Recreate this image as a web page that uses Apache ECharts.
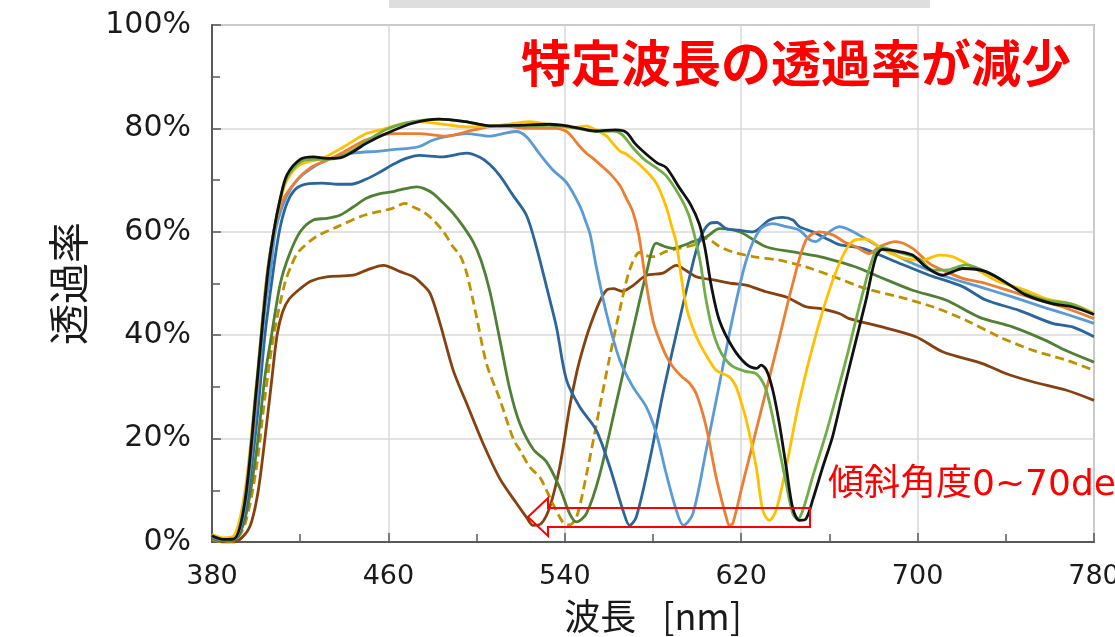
<!DOCTYPE html>
<html>
<head>
<meta charset="utf-8">
<script src="https://cdn.jsdelivr.net/npm/echarts@6/dist/echarts.min.js"></script>
<style>
html, body { margin: 0; padding: 0; background: #fff; }
#main { width: 1115px; height: 637px; }
</style>
</head>
<body>
<div id="main"></div>
<script>
// 波長[nm] と 透過率[%] の組
var curveBlack = [[380,1.2],[385,0.5],[390,0.6],[395,8],[400,29],[405,51],[408,60],[411,66.5],[414,71],[420,74],[426,74.5],[432,74.2],[438,74.3],[444,75.5],[450,77.1],[459,79],[471,81],[483,81.8],[495,81.3],[506,80.5],[518,80.6],[533,80.8],[541,80.5],[548,79.9],[554,79.5],[563,79.7],[568,79.2],[572,77],[577,75],[582,73.3],[586,72.4],[592,68.5],[597,65.3],[601,61.5],[603.5,57],[606.5,49.4],[610,43],[616,37.7],[622,34.5],[627,33.6],[629,34.2],[631.5,33.2],[634.3,29.4],[637.3,22.9],[640.4,14.5],[643.4,6.5],[646.4,4.2],[649.4,4.5],[652.4,8.1],[657,14.5],[661.5,20.5],[666,28.5],[670.6,36.5],[676.6,46.8],[681,55],[684,56.6],[690,56.3],[697.7,55.5],[703.8,53.2],[711.3,51.6],[716,52.3],[720.4,52.9],[731,52.3],[743,49.4],[749,47.8],[761,46.1],[770,45.5],[780,44]];
var curveGreen = [[380,1.2],[385,0.4],[390,0.5],[395,8.5],[400,29.5],[405,51.5],[408,60],[411,66.5],[414,70.5],[420,73.5],[426,74],[432,74],[438,74.5],[444,75.8],[450,77.5],[459,79.8],[471,81.3],[483,81.8],[495,81.3],[506,80.5],[518,80.4],[533,80.6],[541,80.3],[548,79.8],[554,79.4],[562,79.5],[566,78.8],[571,76.2],[576,74],[581,72.5],[586,70.8],[592,67],[596,63.5],[599,59],[601.5,54],[604,47],[607,41],[611,36.5],[616,34],[622,33],[627,32.5],[631.3,29.4],[635.8,21],[640.4,11.3],[643.4,5.5],[645.6,4.4],[647.9,6.1],[652.4,12.6],[658.5,21],[663,28],[668.3,36.5],[674.3,46.8],[680.4,55.8],[684,57],[690,56.2],[700.6,54.8],[706.8,52.6],[712.8,52.6],[721.9,53.6],[734,51.6],[746,48.7],[758,46.8],[770,46],[780,44]];
var curveYellow = [[380,1.5],[385,0.8],[390,1.2],[395,10],[400,30],[405,52],[408,60],[411,66],[414,70],[420,73],[430,74.2],[440,76.5],[450,79],[459,80],[467,81],[474,81.3],[485,80.8],[495.5,80.3],[510.6,80.6],[518,81],[524,81.3],[532,80.8],[540.8,80.2],[546.8,80.3],[549.8,80.5],[552.8,80],[556,79.3],[559,78.5],[562,77],[565,75.6],[568,75],[571,74],[575.4,72.4],[581.5,69.4],[586,64.8],[588.5,61],[590.6,57.8],[592.8,51.3],[595.1,45.5],[598,41.5],[601.1,38.4],[605,35.5],[608.7,33.2],[614.7,31.9],[617.7,30],[620,27],[622.3,23.6],[626.8,14.5],[629.8,6.1],[632.8,4.2],[635.8,6.1],[640.4,14.5],[646.4,27.4],[654,40.3],[661.5,50.6],[667.5,56.5],[672,58.5],[676.6,58.6],[682.6,57.1],[688,55.8],[694.7,54.8],[702.2,54.5],[709.8,55.5],[715.8,55.2],[724.9,53.2],[735.5,50.6],[749,48.7],[758,47.1],[770,46],[780,44.3]];
var curveOrange = [[380,1.2],[385,0.5],[390,0.6],[395,8],[400,28],[404,48],[408,60],[412,66],[418.5,70],[425,72.5],[432,73.8],[440,75.5],[450,77.8],[462,79],[474,79],[486,78.5],[498.5,79.7],[510.6,80.6],[522.6,80],[536,80],[540.8,79.4],[543,78.5],[546.8,76.5],[549.8,75.2],[552.8,74.2],[556,73],[560.4,71.3],[564.9,69],[567.9,66.5],[570.9,63.8],[573.5,59.5],[576,52.5],[578.5,46],[580.5,42],[583,39],[586,36],[589,33.9],[593,32],[596.6,30.7],[599.6,28.7],[604.1,22.3],[608.6,12.6],[613.2,4.8],[614.7,3.2],[616.2,3.6],[620.7,11.3],[628.3,24.2],[635.9,37.1],[643.4,50],[649.4,58.4],[655,60],[661.5,59.4],[667,58],[672,57.1],[678.1,55.8],[682.6,57.1],[690.1,58.1],[697.7,56.8],[705.3,53.9],[711.3,52.6],[720.4,51],[731,50],[743,48.4],[755,46.8],[765.6,45.5],[780,43.2]];
var curveLightBlue = [[380,1],[385,0.4],[390,0.5],[395,7],[400,26],[404,45],[406.5,52],[408.7,60],[412,65],[416,68.5],[421,71],[432,73.9],[444,75.2],[456,75.6],[462,75.9],[468,76.1],[474,76.5],[480,77.7],[486,78.4],[495.5,79],[506,78.5],[512,79],[518,79.4],[522.6,78.4],[528.7,75],[534.7,71.9],[540.8,69.5],[546.8,65],[549.5,62],[551.5,59.5],[554.3,53.2],[558.9,44.2],[564.9,35.2],[570.9,30],[577,26.1],[581.5,21],[586,13.2],[590.6,6.1],[593.8,3.2],[598.1,5.5],[604.1,17.7],[610.2,30.7],[616.2,43.5],[622.3,54.5],[628.3,60.3],[634.3,61.6],[640.4,61],[646.4,60.3],[651,58.5],[653.9,58.1],[657,59],[664.5,61],[675,59],[682.6,57.1],[690,55.5],[697.7,53.9],[705,52.6],[712.8,51.3],[727.9,49.4],[743,47.4],[758,45.3],[768.6,43.9],[780,42.3]];
var curveDarkBlue = [[380,0.8],[385,0.3],[390,0.4],[395,6],[400,22],[404,40],[407,50],[410.5,60],[414,65.5],[418,68.3],[424,69.3],[430,69.4],[437,69.2],[443,69.2],[450,70.2],[456,71.5],[462,73],[468,74.2],[474,74.8],[484,74.5],[495.5,75.2],[501.5,74.4],[506,73],[510.6,70.8],[516.6,67],[522.6,63.2],[527.1,57.1],[531.7,49.4],[536.2,41.6],[540.8,31.3],[546.8,26.1],[554.3,21.6],[560.4,14.5],[566.4,6.1],[569.4,3.2],[572.4,4.8],[578.5,15.8],[584.5,28.7],[590.6,40.3],[596.6,51.3],[601.1,58.4],[605.6,61.6],[609,61.8],[613.2,60.6],[619,60.3],[625.3,60],[632.8,62.3],[638.8,62.8],[643.4,62.3],[646.4,61],[652.4,60],[660,58.4],[664.5,57.5],[675,56.8],[690.1,54.2],[705.3,51.6],[720.4,49.4],[731,46.8],[746,44.8],[761.1,42.3],[770.2,41.6],[780,39.7]];
var curveDarkGreen = [[380,0.8],[385,0.2],[390,0.3],[395,4.5],[400,17],[404,32],[407,40],[411,50],[415,55.5],[420,60],[426,62.3],[432,62.6],[438,63.2],[444,64.8],[450,66.5],[456.2,67.4],[461.5,67.7],[465.2,68.1],[472.8,68.7],[476,68.4],[480.3,67.4],[485,65.5],[489.3,63.6],[494,61],[498.5,58],[502,54.5],[506,48.5],[510.6,39],[515.1,29.5],[519.6,22.9],[525.6,18],[531.7,15.5],[537.7,10.5],[542.2,5.5],[545.3,3.9],[549.8,5.5],[555.8,13],[563.4,27],[570.9,41],[577,52],[581.5,57.8],[585,57.2],[589,56.8],[594,57.4],[598.1,58.1],[604.1,59],[610.2,60.6],[619.2,60],[631.3,57.1],[643.4,56.1],[655.5,55.2],[664.5,54.2],[672,53.2],[682.6,51.3],[697.7,48.7],[712.8,46.8],[727.9,43.5],[743,41.6],[758,39],[767,37.1],[780,34.8]];
var curveDashed = [[380,0.5],[385,0],[390,0.2],[395,3.5],[400,14],[404,28],[408,40],[413,50],[416,53.5],[419,56],[427,59],[437,61],[449,63.2],[461.5,64.5],[467.5,65.5],[471.3,64.8],[476,63.8],[480.3,62.3],[485,60],[489.3,57.1],[492.4,55.5],[495.5,52],[500,43.5],[504.5,34.5],[510.6,27.5],[516.6,20],[520,17.5],[524.1,14.5],[528.7,12.5],[531.7,10],[536.2,6],[539.5,3.6],[542,3.3],[545.3,4.8],[549.8,13],[555.8,26],[560,35],[564.9,44.8],[569.4,52.6],[573.9,56],[577,55.4],[580,55.2],[586,56.2],[592,56.8],[598.1,57.4],[604.1,58.7],[610,57.2],[616.2,56.1],[625.3,55.2],[637.4,54.5],[649.4,53.2],[661.5,51.4],[676.6,49],[691.6,47.4],[706.8,45.5],[721.9,42.9],[737,39.7],[752.1,37.1],[767.2,35.2],[780,33.2]];
var curveBrown = [[380,0.5],[385,0],[390,0],[395,1.5],[398,4],[401,10],[404,20],[407,31],[409.5,40],[412,44.5],[415,47],[420,49],[425,50.5],[432,51.3],[444,51.6],[450.2,52.6],[457.7,53.5],[465.3,52.3],[471.3,51.3],[475,50],[478.9,48.1],[483.4,42.3],[489.4,33.2],[495.5,26.8],[503,19],[510.6,12.2],[518.1,7.5],[522.6,4.8],[525.6,3.2],[529.4,3.6],[533.2,6.8],[537.7,14.5],[542.2,26.1],[545.5,33],[548.3,37.5],[551.3,41.6],[555.8,46.5],[558.9,48.7],[562,49],[566,48.5],[570.9,49.6],[577,51.6],[584.5,52],[590.6,53.5],[595,52.5],[599.6,51.3],[608.7,50.6],[616.2,50],[622.3,49.7],[631.3,48.4],[640.4,47.4],[649.4,45.5],[655.5,45.2],[664.5,44.2],[669,43.2],[681.1,41.9],[699.2,39.7],[711.3,36.8],[729.4,34.5],[740,32.6],[752.1,31],[767.2,29.4],[780,27.4]];

var curves = [curveBlack, curveGreen, curveYellow, curveOrange, curveLightBlue, curveDarkBlue, curveDarkGreen, curveDashed, curveBrown];
var colors = ['#111111', '#70AD47', '#FFC000', '#ED7D31', '#5B9BD5', '#2A659C', '#4F8033', '#BF9000', '#87400F'];

var myChart = echarts.init(document.getElementById('main'));

var series = [];
for (var i = curves.length - 1; i >= 0; i--) {
    series.push({
        type: 'line',
        data: curves[i],
        smooth: 0.3,
        showSymbol: false,
        lineStyle: {
            color: colors[i],
            width: 2.8,
            type: i == 7 ? [9, 5] : 'solid'
        }
    });
}

var axisColor = '#595959';

var option = {
    animation: false,
    backgroundColor: '#ffffff',
    title: {
        text: '特定波長の透過率が減少',
        left: 521,
        top: 38,
        padding: 0,
        textStyle: {
            color: '#ff0000',
            fontSize: 50,
            fontWeight: 'bold',
            fontFamily: 'Noto Sans CJK JP'
        }
    },
    grid: {
        left: 212,
        right: 21,
        top: 25,
        bottom: 95,
        show: true,
        borderColor: '#7f7f7f',
        borderWidth: 1.5,
        backgroundColor: 'transparent',
        outerBoundsMode: 'none'
    },
    xAxis: {
        type: 'value',
        min: 380,
        max: 780,
        interval: 80,
        axisLine: { show: true, onZero: false, lineStyle: { color: axisColor, width: 2 } },
        axisTick: { show: true, inside: true, length: 9, lineStyle: { color: axisColor, width: 1.5 } },
        minorTick: { show: true, splitNumber: 2, length: 8, lineStyle: { color: axisColor, width: 1.5 } },
        splitLine: { show: true, lineStyle: { color: '#d9d9d9', width: 1.5 } },
        axisLabel: { fontSize: 27, color: '#1a1a1a', margin: 21, fontFamily: 'DejaVu Sans' },
        name: '波長 \u2002[nm]',
        nameLocation: 'middle',
        nameGap: 56,
        nameTextStyle: { fontSize: 36, color: '#1a1a1a', fontFamily: 'Noto Sans CJK JP' }
    },
    yAxis: {
        type: 'value',
        min: 0,
        max: 100,
        interval: 20,
        axisLine: { show: true, lineStyle: { color: axisColor, width: 2 } },
        axisTick: { show: true, inside: true, length: 9, lineStyle: { color: axisColor, width: 1.5 } },
        minorTick: { show: true, splitNumber: 2, length: 8, lineStyle: { color: axisColor, width: 1.5 } },
        splitLine: { show: true, lineStyle: { color: '#d9d9d9', width: 1.5 } },
        axisLabel: { formatter: '{value}%', fontSize: 30, color: '#1a1a1a', margin: 21, fontFamily: 'DejaVu Sans' },
        name: '透過率',
        nameLocation: 'middle',
        nameGap: 123,
        nameTextStyle: { fontSize: 41, color: '#1a1a1a', fontFamily: 'Noto Sans CJK JP' }
    },
    graphic: [
        { // 上端の灰色の帯
            type: 'rect',
            shape: { x: 389, y: 0, width: 541, height: 8 },
            style: { fill: '#dedede' },
            silent: true
        },
        { // 左向きの矢印 (白抜き)
            type: 'polygon',
            shape: {
                points: [[528, 517], [548, 498], [548, 508], [810, 508], [810, 527], [548, 527], [548, 536]]
            },
            style: { fill: null, stroke: '#ff0000', lineWidth: 2 },
            z: 100,
            silent: true
        },
        {
            type: 'text',
            x: 828,
            y: 468,
            style: {
                text: '傾斜角度0~70deg',
                fill: '#ff0000',
                fontSize: 36,
                fontFamily: "'DejaVu Sans', 'Noto Sans CJK JP'"
            },
            z: 100,
            silent: true
        }
    ],
    series: series
};

myChart.setOption(option);
</script>
</body>
</html>
